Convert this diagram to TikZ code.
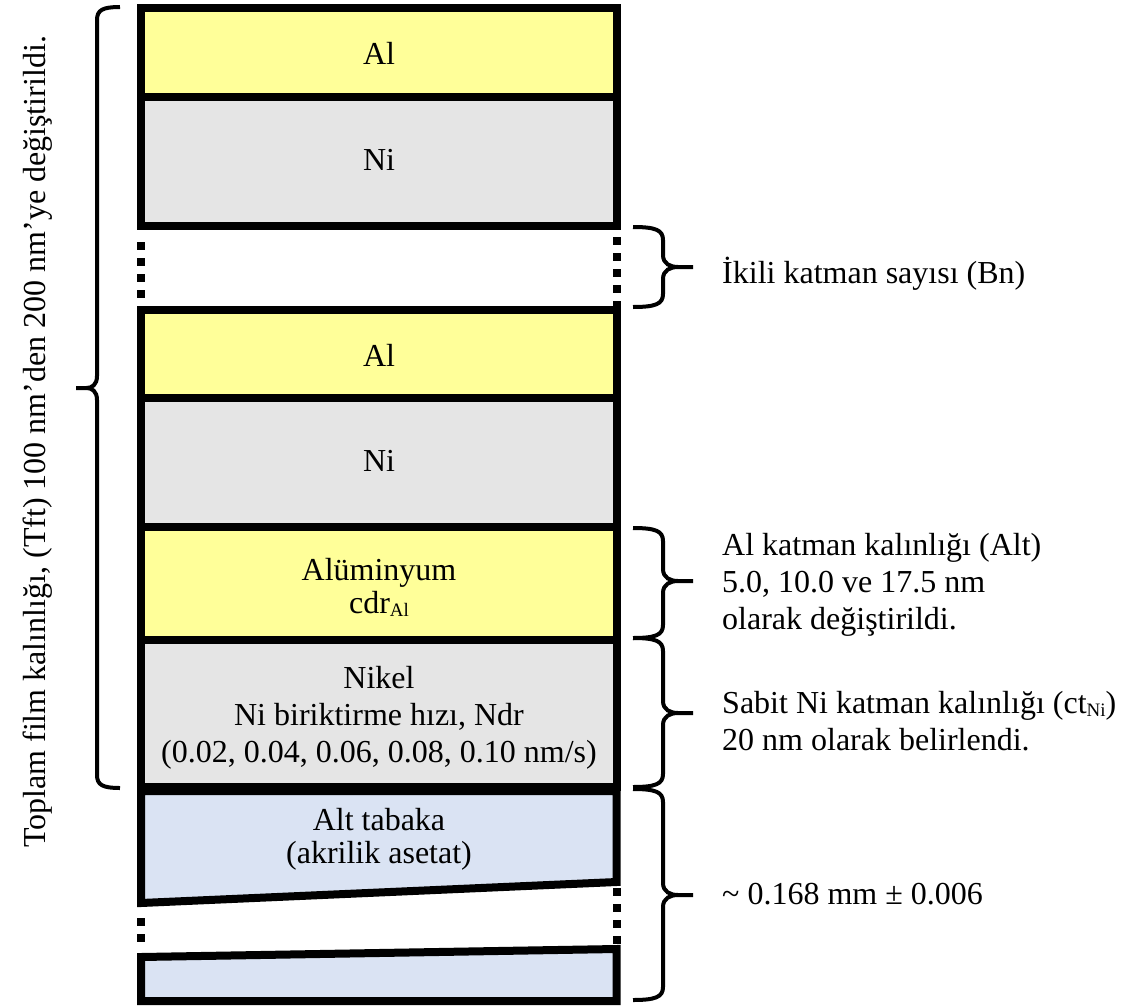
\documentclass[tikz,border=0pt]{standalone}
\usepackage{fontspec}
\setmainfont{Liberation Serif}
\definecolor{alyellow}{HTML}{FFFF99}
\definecolor{nigray}{HTML}{E5E5E5}
\definecolor{subblue}{HTML}{DAE3F3}
\newcommand\mylines[2]{\begin{tabular}[t]{@{}#1@{}}#2\end{tabular}}
\newcommand\mysub[1]{\raisebox{-3.5pt}{\fontsize{19}{19}\selectfont #1}}
\tikzset{
 layer/.style={draw=black, line width=8pt},
 allayer/.style={layer, fill=alyellow},
 nilayer/.style={layer, fill=nigray},
 sublayer/.style={layer, fill=subblue},
 gapdots/.style={line width=8pt, dash pattern=on 8pt off 8pt},
 bracestyle/.style={line width=4pt},
 txt/.style={inner sep=0pt, font=\fontsize{32}{37}\selectfont},
 ctxt/.style={txt, anchor=base},
 rtxt/.style={txt, anchor=base west},
}
% #1 x of ends, #2 x of spine, #3 x of tip, #4 top y, #5 bottom y, #6 tip y
\newcommand\mybrace[6]{%
 \draw[bracestyle] (#1,#4) .. controls ({#1+0.75*(#2-#1)},#4) and (#2,{#4+3}) .. (#2,{#4+13})
   -- (#2,{#6-12}) .. controls (#2,{#6-3}) and ({#2+0.25*(#3-#2)},#6) .. ({#2+0.5*(#3-#2)},#6) -- (#3,#6)
   ({#2+0.5*(#3-#2)},#6) .. controls ({#2+0.25*(#3-#2)},#6) and (#2,{#6+3}) .. (#2,{#6+12})
   -- (#2,{#5-13}) .. controls (#2,{#5-3}) and ({#1+0.75*(#2-#1)},#5) .. (#1,#5);}
\begin{document}
\begin{tikzpicture}[x=1pt,y=-1pt]
\useasboundingbox (0,0) rectangle (1126,1006);
% layers
\draw[allayer] (141,8) rectangle (616.5,97);
\draw[nilayer] (141,97) rectangle (616.5,226);
\draw[gapdots] (141,242) -- (141,298);
\draw[gapdots] (616.5,237) -- (616.5,309);
\draw[allayer] (141,310) rectangle (616.5,398);
\draw[nilayer] (141,398) rectangle (616.5,527);
\draw[allayer] (141,527) rectangle (616.5,640);
\draw[nilayer] (141,640) rectangle (616.5,787);
\draw[sublayer] (141,791) -- (616.5,791) -- (616.5,882) -- (141,903) -- cycle;
\draw[gapdots] (141,918) -- (141,942);
\draw[gapdots] (616.5,888) -- (616.5,944);
\draw[sublayer] (141,957) -- (616.5,949) -- (616.5,1001) -- (141,1001) -- cycle;
% layer labels
\node[ctxt] (al1) at (379,65) {Al};
\node[ctxt] (ni1) at (379,170) {Ni};
\node[ctxt] (al2) at (379,366) {Al};
\node[ctxt] (ni2) at (379,471) {Ni};
\node[ctxt, font=\fontsize{32}{33}\selectfont] (alum) at (379,580) {\mylines{c}{Alüminyum\\cdr\mysub{Al}}};
\node[ctxt] (nikel) at (379,688) {\mylines{c}{Nikel\\Ni biriktirme hızı, Ndr\\(0.02, 0.04, 0.06, 0.08, 0.10 nm/s)}};
\node[ctxt, font=\fontsize{32}{33}\selectfont] (alt) at (379,830) {\mylines{c}{Alt tabaka\\(akrilik asetat)}};
% braces
\mybrace{120}{97}{76}{7}{788}{388}
\mybrace{633}{663}{693}{227}{307}{267}
\mybrace{633}{663}{693}{528}{638}{581}
\mybrace{633}{663}{693}{638}{787}{713}
\mybrace{633}{663}{693}{789}{1000}{895}
% annotations
\node[txt, rotate=90, anchor=base] (tft) at (45,442) {Toplam film kalınlığı, (Tft) 100 nm’den 200 nm’ye değiştirildi.};
\node[rtxt] (bn) at (722,283) {İkili katman sayısı (Bn)};
\node[rtxt] (altt) at (722,555) {\mylines{l}{Al katman kalınlığı (Alt)\\5.0, 10.0 ve 17.5 nm\\olarak değiştirildi.}};
\node[rtxt, font=\fontsize{32}{37.5}\selectfont] (ctni) at (722,713) {\mylines{l}{Sabit Ni katman kalınlığı (ct\mysub{Ni})\\20 nm olarak belirlendi.}};
\node[rtxt] (subt) at (722,904) {\textasciitilde{} 0.168 mm ± 0.006};
\end{tikzpicture}
\end{document}
